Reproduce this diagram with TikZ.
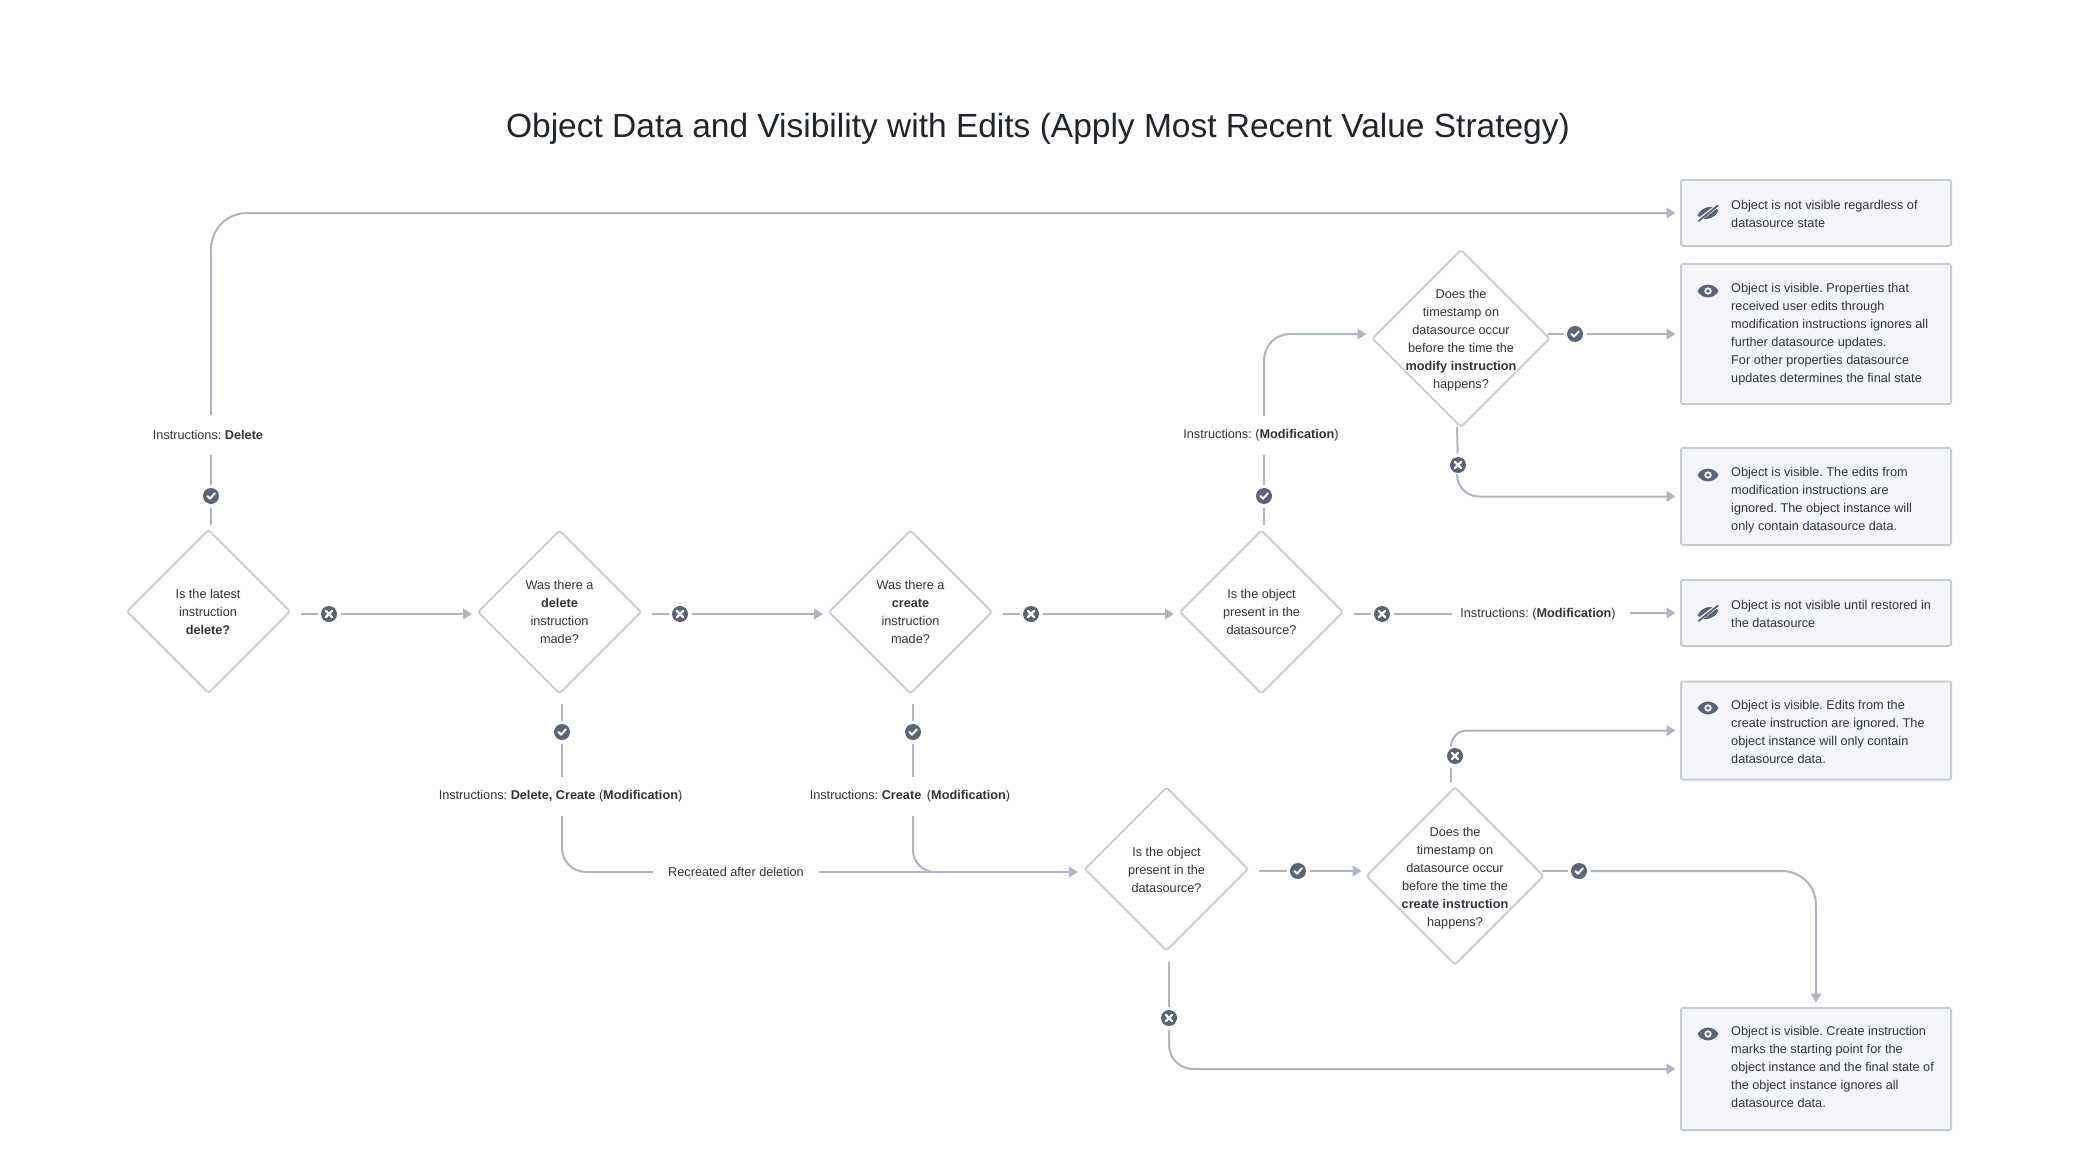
\documentclass[tikz,border=0pt]{standalone}
\usepackage{fontspec}
\setmainfont{Liberation Sans}
\usetikzlibrary{shapes.geometric,arrows.meta,calc}
\definecolor{linec}{HTML}{ADB5C5}
\definecolor{diac}{HTML}{C9CED9}
\definecolor{boxc}{HTML}{C6CCD6}
\definecolor{boxf}{HTML}{F5F6F9}
\definecolor{iconc}{HTML}{5A6479}
\definecolor{txtc}{HTML}{2E333D}
\definecolor{titlec}{HTML}{1F242D}
\tikzset{
 conn/.style={draw=linec,line width=2pt},
 arr/.style={conn,-{Triangle[length=9pt,width=10.5pt]}},
 dia/.style={diamond,aspect=1,draw=diac,line width=2pt,fill=white,inner sep=0pt,outer sep=0pt,rounded corners=2.5pt},
 dtext/.style={align=center,font=\fontsize{12.7}{18}\selectfont,text=txtc,inner sep=0pt},
 boxn/.style={rectangle,draw=boxc,fill=boxf,line width=2pt,rounded corners=2pt,minimum width=270pt,inner sep=0pt,outer sep=5.5pt},
 btext/.style={align=left,anchor=west,font=\fontsize{12.7}{18}\selectfont,text=txtc,inner sep=0pt},
 lab/.style={font=\fontsize{12.7}{18}\selectfont,text=txtc,inner ysep=0pt,minimum height=39pt,inner xsep=9pt,anchor=center},
 ic/.style={circle,fill=iconc,minimum size=16pt,inner sep=0pt,outer sep=3.5pt},
}
\newcommand{\okicon}[2]{\node[ic] (#1) at (#2) {};
 \draw[white,line width=2pt,line cap=round,line join=round] ($(#1)+(-3.6,0)$) -- ($(#1)+(-1,2.6)$) -- ($(#1)+(3.8,-2.6)$);}
\newcommand{\noicon}[2]{\node[ic] (#1) at (#2) {};
 \draw[white,line width=2.4pt,line cap=round] ($(#1)+(-3,-3)$) -- ($(#1)+(3,3)$) ($(#1)+(-3,3)$) -- ($(#1)+(3,-3)$);}
\newcommand{\eyeicon}[1]{\begin{scope}[shift={(#1)}]
 \fill[iconc,even odd rule] (-10.5,0) .. controls (-6,-8.5) and (6,-8.5) .. (10.5,0) .. controls (6,8.5) and (-6,8.5) .. (-10.5,0) (0,0) circle (3.8);
 \fill[iconc] (0,0) circle (1.9);
 \end{scope}}
\newcommand{\officon}[1]{\begin{scope}[shift={(#1)}]
 \fill[iconc] (-10.5,2.5) .. controls (-7,-6) and (5,-9) .. (10.5,-2.5) .. controls (7,6) and (-5,9) .. (-10.5,2.5) -- cycle;
 \draw[white,line width=3.6pt] (-10.5,8) -- (10.5,-8);
 \draw[iconc,line width=1.9pt,line cap=round] (-9.5,8) -- (10,-7.5);
 \end{scope}}
\begin{document}
\frenchspacing
\begin{tikzpicture}[x=1pt,y=-1pt]
\useasboundingbox (0,0) rectangle (2079,1169);
\fill[white] (0,0) rectangle (2079,1169);
\node[font=\fontsize{33.5}{40}\selectfont,text=titlec,inner sep=0pt] (title) at (1038,129) {Object Data and Visibility with Edits (Apply Most Recent Value Strategy)};

% decisions
\node[dia,minimum width=163pt,minimum height=163pt] (d1) at (208.5,611.5) {};
\node[dtext] (d1t) at (208,612) {Is the latest\\instruction\\\textbf{delete?}};
\node[dia,minimum width=163pt,minimum height=163pt] (d2) at (559.5,612) {};
\node[dtext] (d2t) at (559.5,612) {Was there a\\\textbf{delete}\\instruction\\made?};
\node[dia,minimum width=163pt,minimum height=163pt] (d3) at (910.5,612) {};
\node[dtext] (d3t) at (910.5,612) {Was there a\\\textbf{create}\\instruction\\made?};
\node[dia,minimum width=163pt,minimum height=163pt] (d4) at (1261.5,612) {};
\node[dtext] (d4t) at (1261.5,612) {Is the object\\present in the\\datasource?};
\node[dia,minimum width=177pt,minimum height=177pt] (d5) at (1461,338.5) {};
\node[dtext] (d5t) at (1461,340) {Does the\\timestamp on\\datasource occur\\before the time the\\\textbf{modify instruction}\\happens?};
\node[dia,minimum width=163pt,minimum height=163pt] (d6) at (1166.5,869) {};
\node[dtext] (d6t) at (1166.5,870) {Is the object\\present in the\\datasource?};
\node[dia,minimum width=177pt,minimum height=177pt] (d7) at (1455,876) {};
\node[dtext] (d7t) at (1455,878) {Does the\\timestamp on\\datasource occur\\before the time the\\\textbf{create instruction}\\happens?};

% result boxes
\node[boxn,minimum height=66pt] (b1) at (1816,213) {};
\node[btext] (b1t) at (1731,214) {Object is not visible regardless of\\datasource state};
\node[boxn,minimum height=140pt] (b2) at (1816,334) {};
\node[btext] (b2t) at (1731,334) {Object is visible. Properties that\\received user edits through\\modification instructions ignores all\\further datasource updates.\\For other properties datasource\\updates determines the final state};
\node[boxn,minimum height=97pt] (b3) at (1816,496.5) {};
\node[btext] (b3t) at (1731,500) {Object is visible. The edits from\\modification instructions are\\ignored. The object instance will\\only contain datasource data.};
\node[boxn,minimum height=66pt] (b4) at (1816,613) {};
\node[btext] (b4t) at (1731,614) {Object is not visible until restored in\\the datasource};
\node[boxn,minimum height=98pt] (b5) at (1816,730.5) {};
\node[btext] (b5t) at (1731,732) {Object is visible. Edits from the\\create instruction are ignored. The\\object instance will only contain\\datasource data.};
\node[boxn,minimum height=122pt] (b6) at (1816,1069) {};
\node[btext] (b6t) at (1731,1067.4) {Object is visible. Create instruction\\marks the starting point for the\\object instance and the final state of\\the object instance ignores all\\datasource data.};

\officon{1708,213}
\eyeicon{1708,291}
\eyeicon{1708,475}
\officon{1708,613}
\eyeicon{1708,708}
\eyeicon{1708,1034}

% labels
\node[lab] (l1) at (208,435) {Instructions: \textbf{Delete}};
\node[lab] (l2) at (560.5,796.5) {Instructions: \textbf{Delete, Create} (\textbf{Modification})};
\node[lab] (l3) at (910,796.5) {Instructions: \textbf{Create}\, (\textbf{Modification})};
\node[lab] (l4) at (1261,435.5) {Instructions: (\textbf{Modification})};
\node[lab,inner xsep=8pt] (l5) at (1538,614.5) {Instructions: (\textbf{Modification})};
\node[lab,inner xsep=15pt] (l6) at (736,872) {Recreated after deletion};

% icons
\okicon{k1}{211,496}
\okicon{k2}{562,732}
\okicon{k3}{913,732}
\okicon{k4}{1264,496}
\okicon{k5}{1575,334}
\okicon{k6}{1298,871}
\okicon{k7}{1579,871}
\noicon{x1}{329,614}
\noicon{x2}{680,614}
\noicon{x3}{1031,614}
\noicon{x4}{1382,614}
\noicon{x5}{1458,465}
\noicon{x6}{1455,756}
\noicon{x7}{1169,1018}

% free ends
\coordinate (s1) at (211,525);
\coordinate (s2) at (562,704);
\coordinate (s3) at (913,704);
\coordinate (s4) at (1264,525);
\coordinate (s5) at (301,614);
\coordinate (s6) at (652,614);
\coordinate (s7) at (1003,614);
\coordinate (s8) at (1354,614);
\coordinate (s9) at (1457,427);
\coordinate (s10) at (1548,334);
\coordinate (s11) at (1259,871);
\coordinate (s12) at (1542,871);
\coordinate (s13) at (1451,782);
\coordinate (s14) at (1169,962);

% connectors
\draw[conn] (s1) -- (k1);
\draw[conn] (k1) -- (k1 |- l1.south);
\draw[arr,rounded corners=36pt] (k1 |- l1.north) |- (b1.west);

\draw[conn] (s5) -- (x1);
\draw[arr,shorten >=6pt] (x1) -- (x1 -| d2.west);
\draw[conn] (s6) -- (x2);
\draw[arr,shorten >=6pt] (x2) -- (x2 -| d3.west);
\draw[conn] (s7) -- (x3);
\draw[arr,shorten >=6pt] (x3) -- (x3 -| d4.west);
\draw[conn] (s8) -- (x4);
\draw[conn] (x4) -- (x4 -| l5.west);
\draw[arr,shorten <=6pt] (l5.east |- b4.west) -- (b4.west);

\draw[conn] (s2) -- (k2);
\draw[conn] (k2) -- (k2 |- l2.north);
\draw[conn,rounded corners=24pt] (k2 |- l2.south) |- (l6.west);
\draw[arr,shorten >=7pt] (l6.east) -- (l6.east -| d6.west);

\draw[conn] (s3) -- (k3);
\draw[conn] (k3) -- (k3 |- l3.north);
\draw[conn,rounded corners=22pt] (k3 |- l3.south) |- ($(k3 |- l6)+(35,0)$);

\draw[conn] (s4) -- (k4);
\draw[conn] (k4) -- (k4 |- l4.south);
\draw[arr,rounded corners=26pt,shorten >=6pt] (k4 |- l4.north) |- (d5.west |- k5);

\draw[conn] (s10) -- (k5);
\draw[arr] (k5) -- (k5 -| b2.west);

\draw[conn] (s9) -- (x5);
\draw[arr,rounded corners=22pt] (x5.south -| s9) |- (b3.west);

\draw[conn] (s11) -- (k6);
\draw[arr,shorten >=5pt] (k6) -- (k6 -| d7.west);

\draw[conn] (s12) -- (k7);
\draw[arr,rounded corners=34pt] (k7) -| (b6.north);

\draw[conn] (s13) -- (s13 |- x6.south);
\draw[arr,rounded corners=16pt] (s13 |- x6.north) |- (b5.west);

\draw[conn] (s14) -- (x7);
\draw[arr,rounded corners=24pt] (x7) |- (b6.west);
\end{tikzpicture}
\end{document}
